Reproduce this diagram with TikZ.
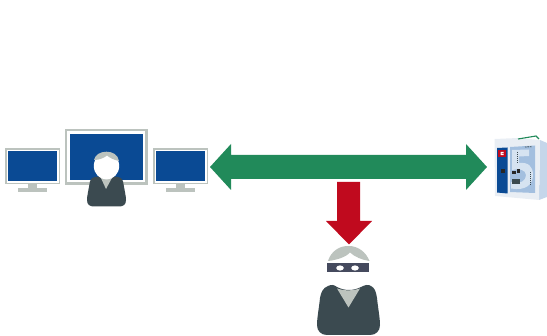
\documentclass[tikz,border=0pt]{standalone}
\definecolor{navy}{HTML}{0A4A94}
\definecolor{frame}{HTML}{BCC3BE}
\definecolor{slate}{HTML}{3B4A50}
\definecolor{mask}{HTML}{454A5E}
\definecolor{arrowgreen}{HTML}{218A5A}
\definecolor{arrowred}{HTML}{C00A1E}
\definecolor{devface}{HTML}{E9EEF4}
\definecolor{devside}{HTML}{C5D6EA}
\definecolor{devpanel}{HTML}{A3BFDF}
\definecolor{devfive}{HTML}{D6E3F1}
\tikzset{
  screenframe/.style={draw=frame,fill=white,line width=1.6pt},
  bigframe/.style={draw=frame,fill=white,line width=2.2pt},
  screenblue/.style={fill=navy},
  standpart/.style={fill=frame},
  bodypart/.style={fill=slate},
  hairpart/.style={fill=frame},
}
\begin{document}
\begin{tikzpicture}[x=1pt,y=-1pt]
\useasboundingbox (0,0) rectangle (547,336);
% monitors
\draw[screenframe] (6,149) rectangle (59.5,183.5);
\fill[screenblue] (8.2,151) rectangle (57.3,181.2);
\fill[standpart] (28,184) rectangle (37,189);
\fill[standpart] (18,188) rectangle (47,192);
\draw[bigframe] (66.2,130.2) rectangle (146.5,183.5);
\fill[screenblue] (70,134) rectangle (143,180);
\draw[screenframe] (154,149) rectangle (207.5,183.5);
\fill[screenblue] (156.2,151) rectangle (204.8,181.2);
\fill[standpart] (176,184) rectangle (185,189);
\fill[standpart] (166,188) rectangle (195,192);
% user
\fill[bodypart] (95,177) .. controls (100,176) and (113,176) .. (118,177)
  .. controls (122,178) and (123,180) .. (123.5,184)
  .. controls (124.5,190) and (126,196) .. (126,200)
  .. controls (126,205) and (123,206.5) .. (119,206.5)
  -- (94,206.5) .. controls (90,206.5) and (87,205) .. (87,200)
  .. controls (87,196) and (88.5,190) .. (89.5,184)
  .. controls (90,180) and (91,178) .. (95,177) -- cycle;
\fill[hairpart] (100,176) -- (106,189) -- (113,176) -- cycle;
\fill[white] (106.5,166) ellipse (12.7 and 13.5);
\fill[hairpart] (94,160) .. controls (95,155) and (100,151.7) .. (106.5,151.7)
  .. controls (113,151.7) and (118,155) .. (119,161)
  .. controls (114,160) and (110,158) .. (107,155.5)
  .. controls (104,158) and (99,160) .. (94,160) -- cycle;
% double arrow
\fill[arrowgreen] (210,167) -- (231,144) -- (231,155) -- (466,155) -- (466,144)
  -- (487,167) -- (466,190) -- (466,179) -- (231,179) -- (231,190) -- cycle;
% red arrow
\fill[arrowred] (337,182) -- (360,182) -- (360,221) -- (372,221) -- (349,244.5)
  -- (326,221) -- (337,221) -- cycle;
% attacker
\fill[hairpart] (328,261) .. controls (331,251) and (340,245.5) .. (349,246)
  .. controls (358,246) and (366,252) .. (369.5,261)
  .. controls (362,260) and (355,257) .. (350,252.5)
  .. controls (346,257) and (337,260) .. (328,261) -- cycle;
\fill[mask] (327,263) rectangle (369,272);
\fill[white] (340,268) ellipse (3.8 and 2.6);
\fill[white] (355,268) ellipse (3.8 and 2.6);
\fill[bodypart] (328,286) .. controls (332,284) and (334,285) .. (337,287)
  .. controls (345,291) and (353,291) .. (361,287)
  .. controls (365,285) and (368,284) .. (371,286)
  .. controls (375,288) and (376,292) .. (377,298)
  .. controls (378,308) and (380,318) .. (380,325)
  .. controls (380,331) and (376,335) .. (370,335)
  -- (327,335) .. controls (321,335) and (317,331) .. (317,325)
  .. controls (317,318) and (319,308) .. (320,298)
  .. controls (321,292) and (323,288) .. (328,286) -- cycle;
\fill[hairpart] (337,288.5) .. controls (345,291) and (353,291) .. (360,288.5) -- (348.5,307.5) -- cycle;
% device
\fill[devside] (540,140) -- (547,143) -- (547,197) -- (539,200) -- cycle;
\fill[devface] (494.5,139) -- (518,138) -- (540,140) -- (539,200) -- (495,196) -- cycle;
\draw[arrowgreen,line width=1.1pt] (518,139) -- (536,136) -- (539,139);
\fill[navy] (497,148) -- (507.5,147.5) -- (507.5,193.5) -- (497,192.5) -- cycle;
\fill[arrowred] (498,150) rectangle (506,157.5);
\fill[white] (500.5,152) rectangle (503.5,153.2) (500.5,153.2) rectangle (501.7,154) (500.5,154) rectangle (503.5,155.2);
\fill[black!85] (501,169) rectangle (505,173);
\fill[devpanel] (510,147) -- (535,145.5) -- (535,193) -- (510,192) -- cycle;
\fill[devfive] (512,150) -- (529,149.5) -- (529,156) -- (519,156.5) -- (519,163)
  .. controls (528,162) and (533,166) .. (533,175)
  .. controls (533,185) and (525,191) .. (511,188.5) -- (511,182)
  .. controls (521,184) and (526,181) .. (526,175)
  .. controls (526,170) and (519,168) .. (512,170) -- cycle;
\fill[black!85] (512,171) rectangle (516,174.5);
\fill[black!85] (517,169) rectangle (520,173.5);
\fill[slate] (512,179) rectangle (520,184.5);
\draw[slate,line width=.8pt,dash pattern=on 1pt off 1pt] (517.5,152) -- (517.5,164);
\draw[slate,line width=.8pt,dash pattern=on 1pt off 1pt] (530,172) -- (530,186);
\draw[slate,line width=.8pt,dash pattern=on 1.5pt off 1pt] (525,147) -- (532,146.7);
\end{tikzpicture}
\end{document}
